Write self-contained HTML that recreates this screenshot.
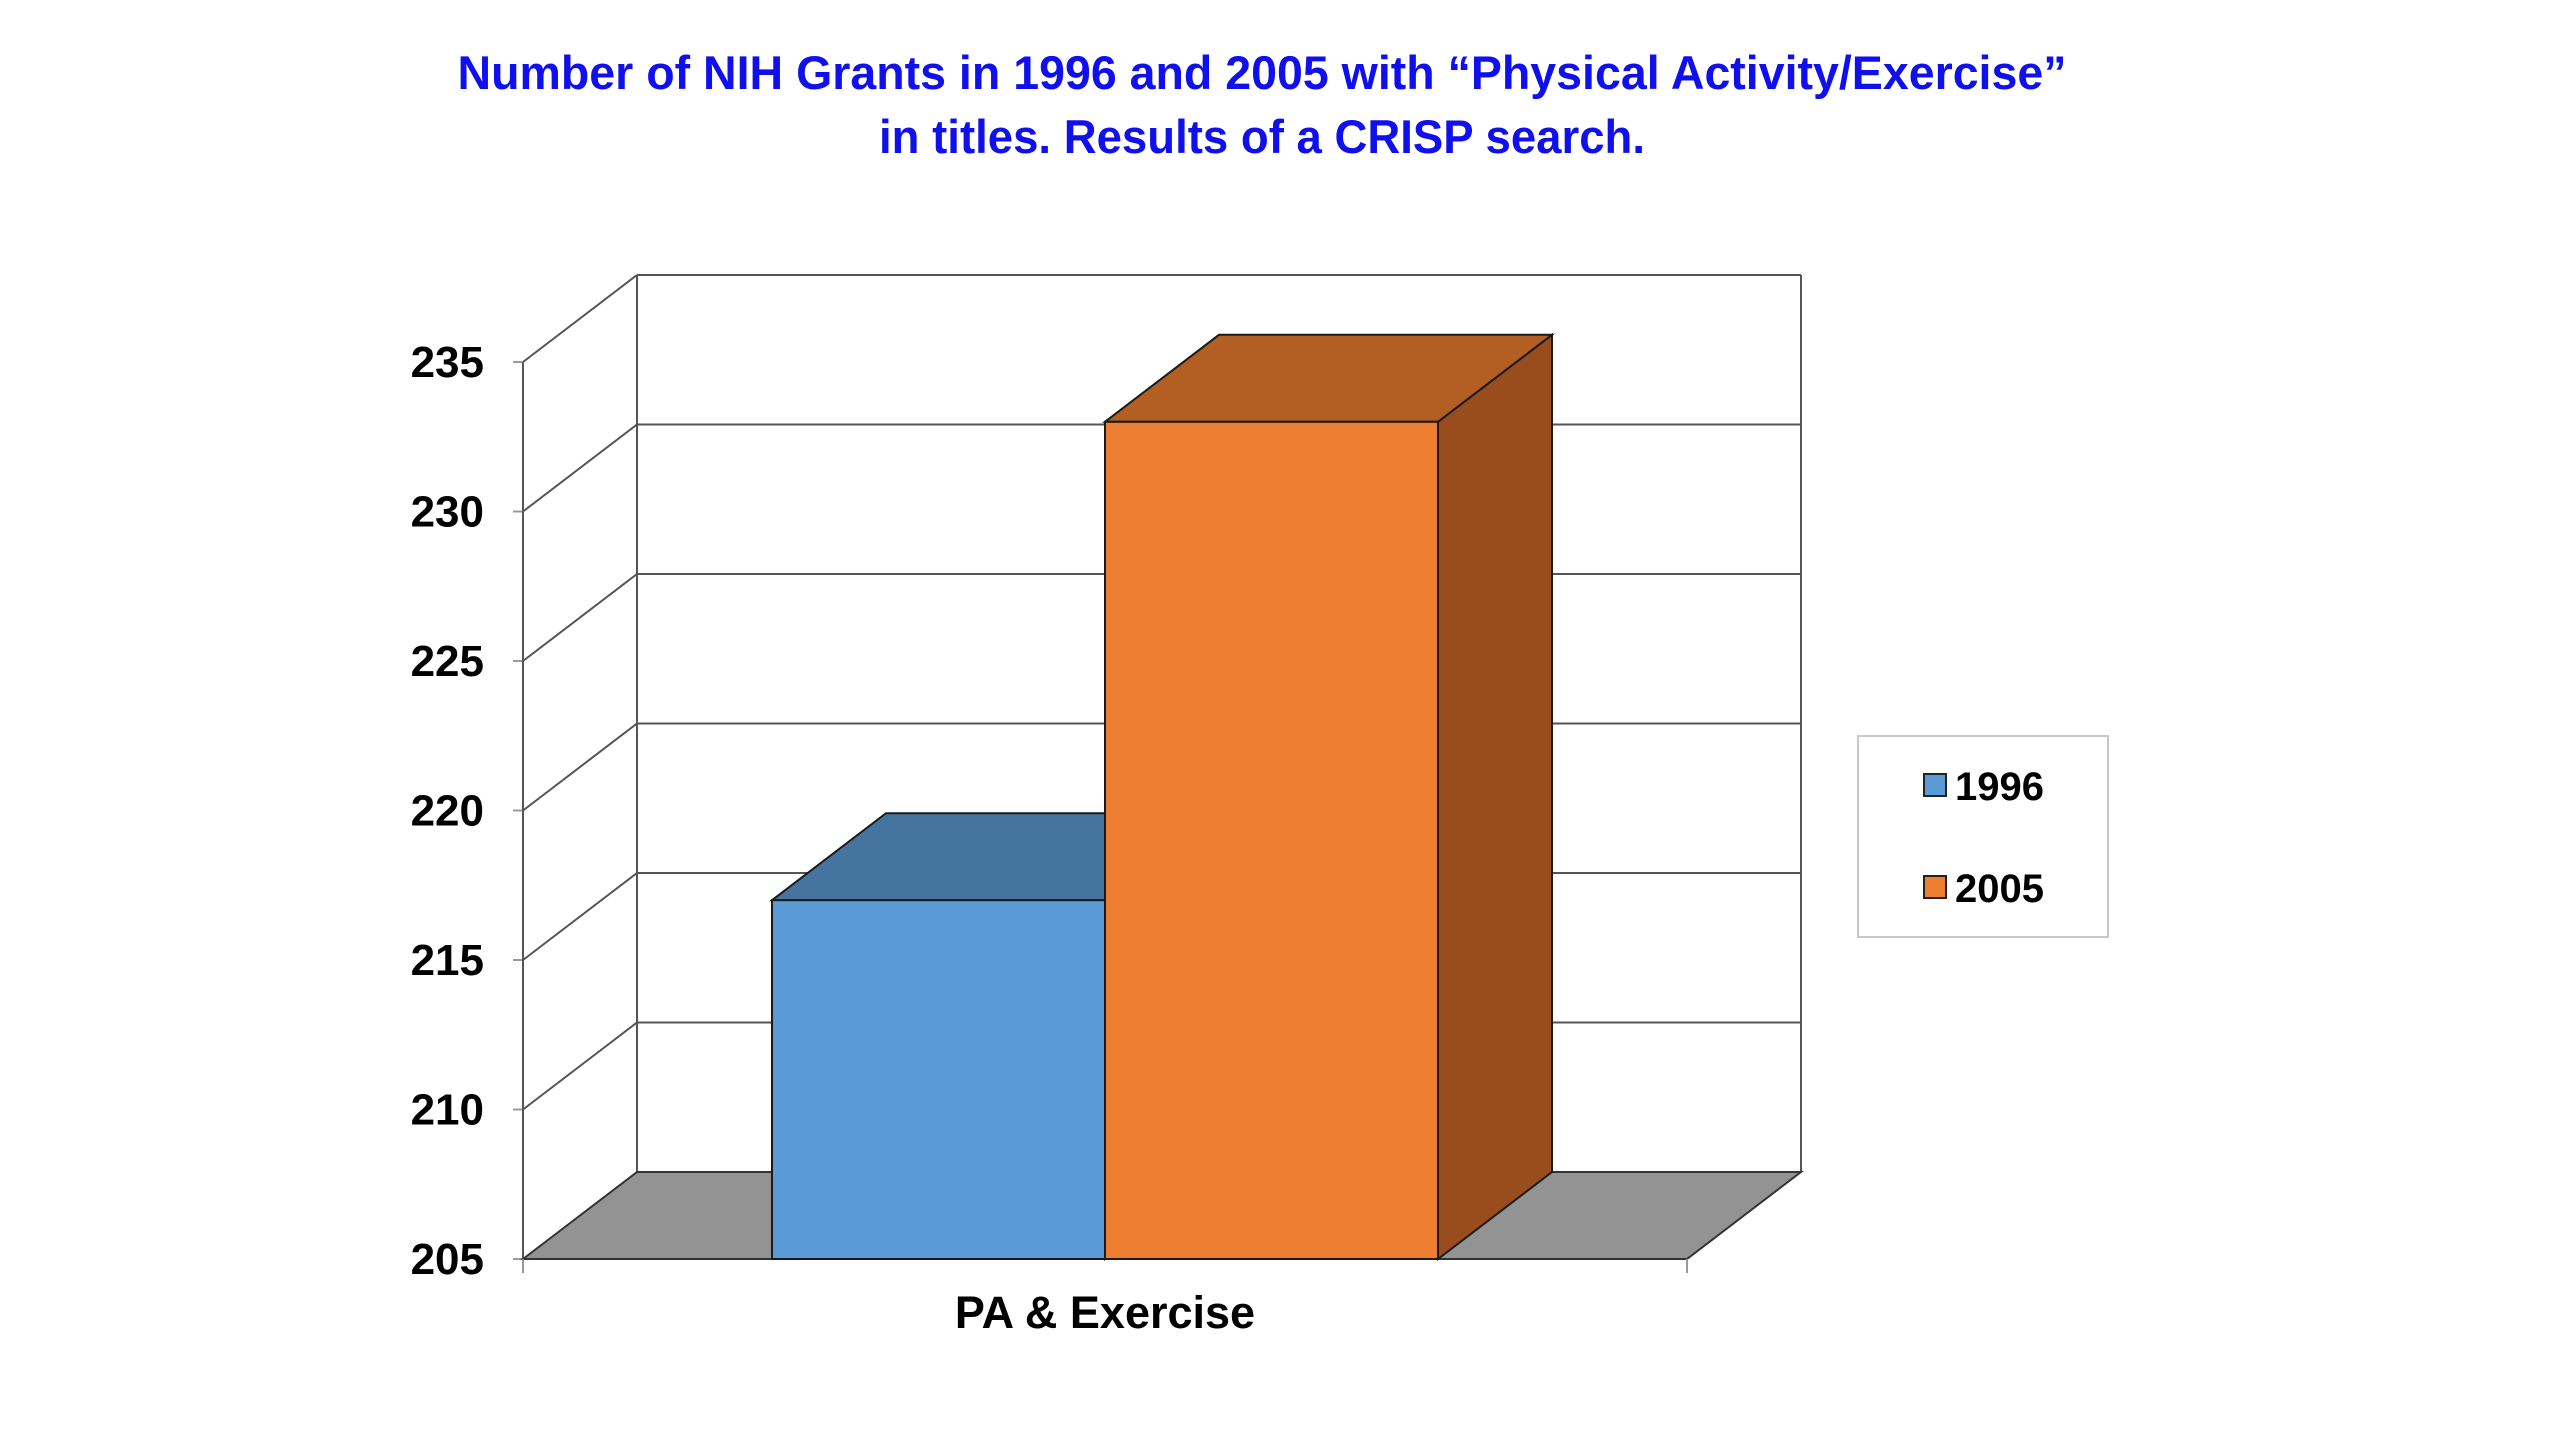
<!DOCTYPE html>
<html><head><meta charset="utf-8"><style>
html,body{margin:0;padding:0;background:#fff;}
svg{display:block;}
</style></head><body>
<svg id="chart" width="2560" height="1440" xmlns="http://www.w3.org/2000/svg" font-family="'Liberation Sans', sans-serif">
<text x="1262" y="89" text-anchor="middle" fill="#1010ee" font-weight="bold" font-size="47" textLength="1609" lengthAdjust="spacingAndGlyphs">Number of NIH Grants in 1996 and 2005 with “Physical Activity/Exercise”</text>
<text x="1262" y="153" text-anchor="middle" fill="#1010ee" font-weight="bold" font-size="47" textLength="766" lengthAdjust="spacingAndGlyphs">in titles.  Results of a CRISP search.</text>
<g id="plot"></g>
<g>
<rect x="1858" y="736" width="250" height="201" fill="#fff" stroke="#c8c8c8" stroke-width="2"/>
<rect x="1924" y="774" width="22" height="22" fill="#5B9BD5" stroke="#222" stroke-width="2"/>
<text x="1955" y="800" font-size="40" font-weight="bold">1996</text>
<rect x="1924" y="876" width="22" height="22" fill="#ED7D31" stroke="#222" stroke-width="2"/>
<text x="1955" y="902" font-size="40" font-weight="bold">2005</text>
</g>
</svg>
<script>
const categories = ["PA & Exercise"];
const series = ["1996", "2005"];
const values1996 = [217];
const values2005 = [233];
const yTicks = [205, 210, 215, 220, 225, 230, 235];

const NS = "http://www.w3.org/2000/svg";
const g = document.getElementById("plot");
const X0 = 523, X1 = 1687, Y0 = 1259, Y1 = 362, DX = 114, DY = -87;
const yMin = 205, yMax = 235;
function y(v){ return Y0 - (v - yMin) / (yMax - yMin) * (Y0 - Y1); }
function mk(tag, attrs){ const e = document.createElementNS(NS, tag); for (const k in attrs) e.setAttribute(k, attrs[k]); g.appendChild(e); return e; }
function pts(a){ return a.map(p => p.join(",")).join(" "); }

yTicks.forEach((t) => {
  const yy = y(t);
  if (t > yMin) {
    const l = mk("line", {x1: X0 + DX, y1: yy + DY, x2: X1 + DX, y2: yy + DY, stroke: "#555", "stroke-width": 2});
    
    
    const d = mk("line", {x1: X0, y1: yy, x2: X0 + DX, y2: yy + DY, stroke: "#555", "stroke-width": 2});
    
    
  }
  const tk = mk("line", {x1: X0 - 10, y1: yy, x2: X0, y2: yy, stroke: "#999", "stroke-width": 2});
  
  
  const lb = mk("text", {x: 484, y: yy + 15, "text-anchor": "end", "font-size": 44, "font-weight": "bold", fill: "#000"});
  lb.textContent = t;
  
  
});
const w1 = mk("line", {x1: X0, y1: y(yMax), x2: X0, y2: Y0, stroke: "#555", "stroke-width": 2});


const w2 = mk("line", {x1: X0 + DX, y1: y(yMax) + DY, x2: X0 + DX, y2: Y0 + DY, stroke: "#555", "stroke-width": 2});


const w3 = mk("line", {x1: X1 + DX, y1: y(yMax) + DY, x2: X1 + DX, y2: Y0 + DY, stroke: "#555", "stroke-width": 2});


const fl = mk("polygon", {points: pts([[X0, Y0], [X0 + DX, Y0 + DY], [X1 + DX, Y0 + DY], [X1, Y0]]), fill: "#939393", stroke: "#333", "stroke-width": 2});


const xt = mk("line", {x1: X0, y1: Y0, x2: X0, y2: Y0 + 14, stroke: "#999", "stroke-width": 2});


const xt2 = mk("line", {x1: X1, y1: Y0, x2: X1, y2: Y0 + 14, stroke: "#999", "stroke-width": 2});



const catW = (X1 - X0) / categories.length;
const gapFrac = 249 / 1164;
const colors = [["#5B9BD5", "#44749F", "#3A6690"], ["#ED7D31", "#B35E22", "#994D1C"]];
const allVals = [values1996, values2005];
categories.forEach((c, ci) => {
  const start = X0 + ci * catW + catW * gapFrac;
  const bw = (catW * (1 - 2 * gapFrac)) / series.length;
  series.forEach((s, si) => {
    const v = allVals[si][ci];
    const xl = start + si * bw, xr = xl + bw, yt = y(v);
    const [cf, ct, cs] = colors[si];
    const side = mk("polygon", {points: pts([[xr, Y0], [xr, yt], [xr + DX, yt + DY], [xr + DX, Y0 + DY]]), fill: cs, stroke: "#1a1a1a", "stroke-width": 2});
    
    
    const top = mk("polygon", {points: pts([[xl, yt], [xl + DX, yt + DY], [xr + DX, yt + DY], [xr, yt]]), fill: ct, stroke: "#1a1a1a", "stroke-width": 2});
    
    
    const fr = mk("rect", {x: xl, y: yt, width: bw, height: Y0 - yt, fill: cf, stroke: "#1a1a1a", "stroke-width": 2});
    
    
  });
  const cl = mk("text", {x: start + bw, y: 1328, "text-anchor": "middle", "font-size": 45, "font-weight": "bold"});
  cl.textContent = c;
  
  
});
</script>
</body></html>
